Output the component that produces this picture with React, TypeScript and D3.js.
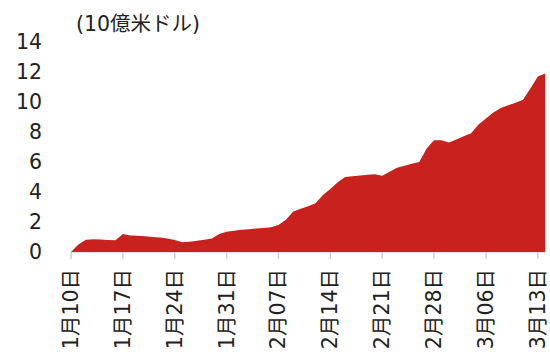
import React from "react";
import * as d3 from "d3";

const values: number[] = [
  0, 0.5, 0.82, 0.85, 0.83, 0.8, 0.79, 1.2, 1.1, 1.08,
  1.05, 1.0, 0.97, 0.9, 0.8, 0.65, 0.68, 0.75, 0.82, 0.9,
  1.2, 1.35, 1.42, 1.48, 1.52, 1.57, 1.6, 1.65, 1.8, 2.15,
  2.7, 2.88, 3.05, 3.25, 3.8, 4.2, 4.65, 5.0, 5.05, 5.1,
  5.15, 5.18, 5.09, 5.35, 5.62, 5.75, 5.88, 6.0, 6.9, 7.45,
  7.45, 7.3, 7.5, 7.72, 7.91, 8.5, 8.9, 9.3, 9.6, 9.78,
  9.95, 10.15, 10.9, 11.7, 11.9,
];

const xTickIndex: number[] = [0, 7, 14, 21, 28, 35, 42, 49, 56, 63];
const xTickLabels: string[] = [
  "1月10日", "1月17日", "1月24日", "1月31日", "2月07日",
  "2月14日", "2月21日", "2月28日", "3月06日", "3月13日",
];
const yTicks: number[] = [0, 2, 4, 6, 8, 10, 12, 14];
const unitLabel = "(10億米ドル)";

const FONT = "'DejaVu Sans', 'Noto Sans CJK JP', sans-serif";

export default function App() {
  const W = 550;
  const H = 354;
  const x = d3.scaleLinear().domain([0, values.length - 1]).range([71, 545.2]);
  const y = d3.scaleLinear().domain([0, 14]).range([252, 42]);
  const area = d3
    .area<number>()
    .x((_, i) => x(i))
    .y0(y(0))
    .y1((d) => y(d));
  return (
    <svg
      width={W}
      height={H}
      style={{ position: "absolute", left: 0, top: 0, background: "#fff" }}
      fontFamily={FONT}
    >
      <line x1={x(0)} x2={x(values.length - 1)} y1={y(0)} y2={y(0)} stroke="#cfcfcf" strokeWidth={1} />
      {xTickIndex.map((t) => (
        <line key={t} x1={x(t)} x2={x(t)} y1={y(0)} y2={y(0) + 7} stroke="#cfcfcf" strokeWidth={1.5} />
      ))}
      <path d={area(values) ?? ""} fill="#C8211E" />
      {yTicks.map((t) => (
        <text
          key={t}
          x={42}
          y={y(t)}
          textAnchor="end"
          dominantBaseline="central"
          fontSize={20.5}
          fill="#222"
        >
          {t}
        </text>
      ))}
      {xTickIndex.map((t, i) => (
        <text
          key={t}
          transform={`translate(${x(t)},${269}) rotate(-90)`}
          textAnchor="end"
          dominantBaseline="central"
          fontSize={20.5}
          fill="#222"
        >
          {xTickLabels[i]}
        </text>
      ))}
      <text x={76} y={24} dominantBaseline="central" fontSize={20.5} fill="#222">
        {unitLabel}
      </text>
    </svg>
  );
}
